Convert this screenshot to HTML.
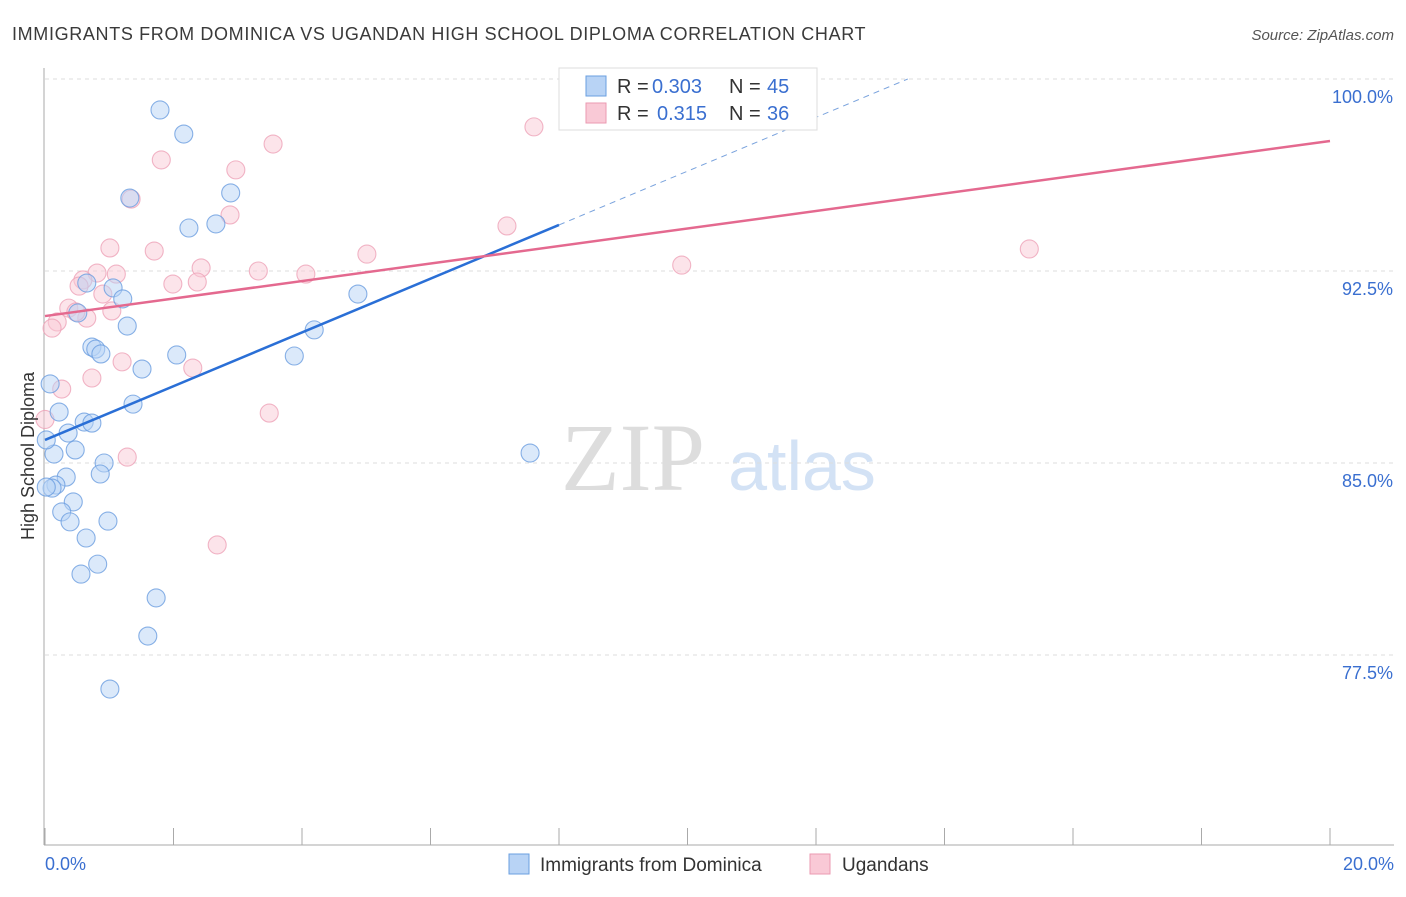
<!DOCTYPE html>
<html><head><meta charset="utf-8"><style>
body{margin:0;background:#fff;font-family:"Liberation Sans",sans-serif}
</style></head><body>
<svg width="1406" height="892" xmlns="http://www.w3.org/2000/svg" id="svg" font-family="Liberation Sans, sans-serif">
<text x="12" y="40" font-size="18" fill="#3a3a3a" letter-spacing="0.65">IMMIGRANTS FROM DOMINICA VS UGANDAN HIGH SCHOOL DIPLOMA CORRELATION CHART</text>
<text x="1394" y="40" font-size="15" fill="#555" text-anchor="end" font-style="italic">Source: ZipAtlas.com</text>
<text x="633" y="490" font-size="96" fill="#ddd" font-family="Liberation Serif, serif" text-anchor="middle">ZIP</text>
<text x="802" y="490" font-size="70" fill="#d3e2f5" text-anchor="middle">atlas</text>
<g id="grid"></g><g id="axes"></g><g id="marks"></g>
<text transform="translate(34,456) rotate(-90)" font-size="18" fill="#333" text-anchor="middle">High School Diploma</text>
<g>
<rect x="559" y="68" width="258" height="62" fill="#fff" stroke="#ddd"/>
<rect x="586" y="76" width="20" height="20" fill="#b8d3f5" stroke="#6a9fe0"/>
<rect x="586" y="103" width="20" height="20" fill="#f9c9d6" stroke="#eb9ab1"/>
<text x="617" y="93" font-size="20" fill="#333">R =</text><text x="652" y="93" font-size="20" fill="#3a6fd0">0.303</text>
<text x="729" y="93" font-size="20" fill="#333">N =</text><text x="767" y="93" font-size="20" fill="#3a6fd0">45</text>
<text x="617" y="120" font-size="20" fill="#333">R =</text><text x="657" y="120" font-size="20" fill="#3a6fd0">0.315</text>
<text x="729" y="120" font-size="20" fill="#333">N =</text><text x="767" y="120" font-size="20" fill="#3a6fd0">36</text>
</g>
<g>
<rect x="509" y="854" width="20" height="20" fill="#b8d3f5" stroke="#6a9fe0"/>
<text x="540" y="871" font-size="19" fill="#333">Immigrants from Dominica</text>
<rect x="810" y="854" width="20" height="20" fill="#f9c9d6" stroke="#eb9ab1"/>
<text x="842" y="871" font-size="19" fill="#333">Ugandans</text>
</g>
</svg>
<script>
const blueX=[1.79,2.16,1.32,2.89,2.24,2.66,1.06,0.65,1.21,0.51,1.28,4.87,4.19,0.73,0.79,0.87,2.05,3.88,1.51,0.08,1.37,0.22,0.61,0.73,0.36,0.14,0.47,0.92,0.86,0.33,0.17,0.11,0.44,0.26,0.39,0.98,0.64,0.82,0.56,1.73,1.60,1.01,7.55,0.02,0.02];
const blueY=[98.79,97.85,95.35,95.55,94.18,94.34,91.84,92.03,91.41,90.86,90.35,91.60,90.20,89.53,89.45,89.26,89.22,89.18,88.67,88.09,87.30,86.99,86.60,86.56,86.17,85.35,85.51,85.00,84.57,84.45,84.14,84.02,83.48,83.09,82.70,82.73,82.07,81.05,80.66,79.73,78.24,76.17,85.39,85.9,84.06];
const pinkX=[1.81,1.34,2.97,3.55,7.61,2.88,1.01,1.70,5.01,7.19,15.32,9.91,2.43,3.32,4.06,0.81,1.11,0.59,0.53,2.37,1.99,0.90,0.37,1.04,0.65,0.48,0.19,0.11,1.20,2.30,0.73,0.26,3.49,1.28,2.68,0.0];
const pinkY=[96.84,95.31,96.45,97.46,98.13,94.69,93.40,93.28,93.16,94.26,93.36,92.73,92.62,92.50,92.38,92.42,92.38,92.15,91.91,92.07,91.99,91.60,91.05,90.94,90.66,90.90,90.51,90.27,88.95,88.71,88.32,87.89,86.95,85.23,81.80,86.7];
const blueFit=[85.9,1.05];
const pinkFit=[90.74,0.342];
const yTicks=[100,92.5,85,77.5];
const yTickLabels=["100.0%","92.5%","85.0%","77.5%"];
const NS="http://www.w3.org/2000/svg";
const X=v=>45+v*64.25, Y=v=>79+(100-v)*25.6;
function mk(t,a,p){const e=document.createElementNS(NS,t);for(const k in a)e.setAttribute(k,a[k]);p.appendChild(e);return e;}
const grid=document.getElementById('grid'),axes=document.getElementById('axes'),marks=document.getElementById('marks');
yTicks.forEach((t,i)=>{
 const l=mk('line',{x1:45,x2:1394,y1:Y(t),y2:Y(t),stroke:'#ddd','stroke-dasharray':'4,4'},grid);
 
 
 const tx=mk('text',{x:1393,y:Y(t)+24,'font-size':18,fill:'#3a6fd0','text-anchor':'end'},axes);
 tx.textContent=yTickLabels[i];
 
 
});
const ya=mk('line',{x1:44,x2:44,y1:68,y2:845,stroke:'#aaa'},axes);


const xa=mk('line',{x1:44,x2:1394,y1:845,y2:845,stroke:'#aaa'},axes);


for(let i=0;i<=10;i++){const t=mk('line',{x1:X(i*2),x2:X(i*2),y1:828,y2:845,stroke:'#aaa'},axes);
 
 }
[[0,"0.0%",'start',45],[20,"20.0%",'end',1394]].forEach(d=>{const t=mk('text',{x:d[3],y:870,'font-size':18,fill:'#3a6fd0','text-anchor':d[2]},axes);t.textContent=d[1];
 
 });
function dots(xs,ys,fill,stroke,name){xs.forEach((x,i)=>{const c=mk('circle',{cx:X(x),cy:Y(ys[i]),r:9,fill:fill,'fill-opacity':0.5,stroke:stroke,'stroke-opacity':0.8,'stroke-width':1.1},marks);
 
 });}
dots(pinkX,pinkY,'#f9c9d6','#eea3b8','ugandans-point');
dots(blueX,blueY,'#b8d3f5','#6b9de0','dominica-point');
const bEnd=(100-blueFit[0])/blueFit[1];
let l=mk('line',{x1:X(0),y1:Y(blueFit[0]),x2:X(8),y2:Y(blueFit[0]+8*blueFit[1]),stroke:'#2a6fd6','stroke-width':2.5},marks);


l=mk('line',{x1:X(8),y1:Y(blueFit[0]+8*blueFit[1]),x2:X(bEnd),y2:Y(100),stroke:'#7aa3dd','stroke-width':1,'stroke-dasharray':'6,5'},marks);


l=mk('line',{x1:X(0),y1:Y(pinkFit[0]),x2:X(20),y2:Y(pinkFit[0]+20*pinkFit[1]),stroke:'#e4698f','stroke-width':2.5},marks);


</script>
</body></html>
